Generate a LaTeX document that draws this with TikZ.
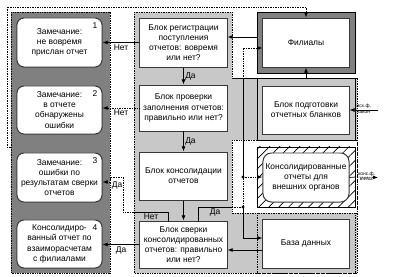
\documentclass[tikz,border=0pt]{standalone}
\usepackage{fontspec}
\setmainfont{Liberation Sans}
\usepackage{tikz}
\usetikzlibrary{arrows.meta,patterns.meta,positioning}
\definecolor{panelDark}{HTML}{808080}
\definecolor{panelLight}{HTML}{C8C8C8}
\definecolor{boxLine}{HTML}{383838}

\begin{document}
\begin{tikzpicture}[
  x=0.025cm, y=-0.025cm,
  font=\fontsize{6}{7.2}\selectfont,
  remark/.style={draw=boxLine, line width=.7pt, fill=white, rounded corners=5pt, minimum width=2.125cm, minimum height=1.225cm, align=center, inner sep=1pt},
  block/.style={draw=boxLine, line width=.7pt, fill=white, minimum width=2.175cm, minimum height=1.2cm, align=center, inner sep=1pt},
  frame/.style={draw=black, line width=.5pt, minimum width=2.45cm, minimum height=1.5cm, inner sep=0pt},
  inbox/.style={draw=boxLine, line width=.7pt, fill=white, minimum width=2.15cm, minimum height=1.225cm, align=center, inner sep=1pt},
  flow/.style={-{Latex[length=1.3mm,width=1mm]}, line width=.5pt},
  link/.style={line width=.5pt},
  dotline/.style={dash pattern=on .5pt off .7pt},
  num/.style={font=\fontsize{6}{7}\selectfont, inner sep=0pt},
  lbl/.style={font=\fontsize{6}{7}\selectfont, inner sep=1pt},
  tiny/.style={font=\fontsize{3.5}{4}\selectfont, inner sep=.5pt}
]
  \useasboundingbox (0,0) rectangle (403,277);
  \fill[white] (0,0) rectangle (403,277);

  % panels
  \fill[panelDark] (11,12) rectangle (110,273);
  \draw[dotline] (11,12) rectangle (110,273);
  \fill[panelLight] (134,12) -- (232,12) -- (232,78) -- (357,78) -- (357,273) -- (134,273) -- cycle;
  \draw[dotline] (134,12) -- (232,12) -- (232,78) -- (357,78) -- (357,273) -- (134,273) -- cycle;
  \draw (232,78) -- (357,78);
  \filldraw[fill=white, dotline] (232,140) rectangle (357,213);

  % right column
  \node[frame, fill=panelDark, minimum height=1.525cm] (filframe) at (306,42.5) {};
  \node[frame, fill=panelLight, minimum height=1.55cm] (prepframe) at (306,109) {};
  \node[frame, pattern={Lines[angle=45,distance=5pt,line width=.5pt]}] (extframe) at (306,177) {};
  \node[frame, fill=panelLight, dotline] (dbframe) at (306,243) {};
  \node[inbox] (fil) at (306,42.5) {Филиалы};
  \node[inbox, minimum height=1.2cm] (prep) at (306,110) {Блок подготовки\\отчетных бланков};
  \node[inbox, rounded corners=6pt] (ext) at (306,177.5) {Консолидированные\\отчеты для\\внешних органов};
  \node[inbox] (db) at (306,243.5) {База данных};

  % middle column
  \node[block, minimum height=1.225cm] (reg) at (183.5,42.5) {Блок регистрации\\поступления\\отчетов: вовремя\\или нет?};
  \node[block, minimum height=1.15cm] (check) at (183.5,108) {Блок проверки\\заполнения отчетов:\\правильно или нет?};
  \node[block] (cons) at (183.5,176) {Блок консолидации\\отчетов};
  \node[block, minimum height=1.175cm] (verify) at (183.5,244.5) {Блок сверки\\консолидированных\\отчетов: правильно\\или нет?};

  % left column
  \node[remark] (late) at (59.5,42.5) {Замечание:\\не вовремя\\прислан отчет};
  \node[remark, minimum height=1.2cm] (errors) at (59.5,110) {Замечание:\\в отчете\\обнаружены\\ошибки};
  \node[remark] (mismatch) at (59.5,177.5) {Замечание:\\ошибки по\\результатам сверки\\отчетов};
  \node[remark, minimum height=1.2cm] (summary) at (59.5,244) {Консолидиро-\\ванный отчет по\\взаиморасчетам\\с филиалами};
  \foreach \b/\n in {late/1,errors/2,mismatch/3,summary/4} {
    \node[num] (num\n) at ([xshift=-1.9mm,yshift=-2.1mm]\b.north east) {\n};
  }

  \coordinate (jda) at (243,207);
  \coordinate (jext) at (243,177);
  \coordinate (loopstart) at (11,147);
  \coordinate (dbout) at ([yshift=-1.625mm]db.west);
  \coordinate (inprep) at (378,110);
  \coordinate (outext) at (378,177.5);

  \draw[flow] ([yshift=1.375mm]filframe.west) -- ([yshift=1.375mm]reg.east);
  \draw[flow] (reg.west) -- node[lbl, below]{Нет} (late.east);
  \draw[flow] (reg.south) -- node[lbl, right]{Да} (check.north);
  \draw[flow, dotline] (check.west) -- node[lbl, below]{Нет} (errors.east |- check.west);
  \draw[flow] (check.south) -- node[lbl, right]{Да} (cons.north);
  \draw[flow] (cons.south) -- (verify.north);
  \draw[flow] (verify.west) -- node[lbl, below]{Да} (summary.east |- verify.west);

  \draw[link] ([xshift=-3.875mm]verify.north) |- node[lbl, pos=.75, below]{Нет} (134,212);
  \draw[flow, dotline] (134,212) -- (123,212) -- (123,177) -- (110,177) |- ([yshift=-1.125mm]mismatch.east);
  \node[lbl] (yesthree) at (117,185) {Да};

  \draw[link] ([xshift=3.625mm]verify.north) |- node[lbl, pos=.75, below]{Да} (232,207);
  \draw[link, dotline] (232,207) -- (jda);
  \draw[link] (243,78) -- (jext);
  \draw[flow, dotline] (jda) |- ([yshift=-1.375mm]fil.west);
  \draw[flow, dotline] (jext) -- (jext -| ext.west);
  \draw[flow] (jda) |- ([yshift=1.375mm]db.west);
  \draw[flow] (dbout) -- (dbout -| verify.east);
  \fill (jda) circle (1.2pt);
  \fill (jext) circle (1.2pt);

  \draw[flow] (prepframe.north) -- (fil.south);
  \draw[flow] (inprep) -- node[tiny, above]{исх.ф.} node[tiny, below]{закон} (inprep -| prep.east);
  \draw[link] (ext.east) -- (extframe.east);
  \draw[flow, dotline] (extframe.east) -- node[tiny, above]{конс.ф.} node[tiny, below]{внеш.} (outext);

  \draw[flow, dotline] (loopstart) -| (7,7) -| (fil.north);
\end{tikzpicture}
\end{document}
